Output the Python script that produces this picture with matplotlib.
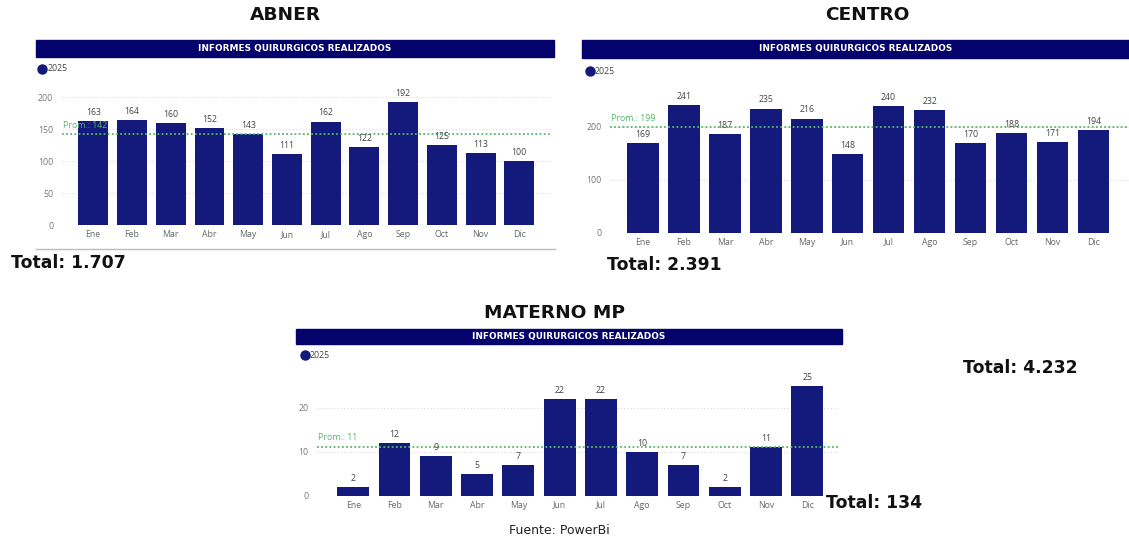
import numpy as np
import matplotlib.pyplot as plt
from matplotlib.patches import Rectangle

# ── data ──
months = ["Ene", "Feb", "Mar", "Abr", "May", "Jun",
          "Jul", "Ago", "Sep", "Oct", "Nov", "Dic"]
abner = [163, 164, 160, 152, 143, 111, 162, 122, 192, 125, 113, 100]
centro = [169, 241, 187, 235, 216, 148, 240, 232, 170, 188, 171, 194]
materno = [2, 12, 9, 5, 7, 22, 22, 10, 7, 2, 11, 25]
abner_ticks = [0, 50, 100, 150, 200]
centro_ticks = [0, 100, 200]
materno_ticks = [0, 10, 20]
series_name = "2025"
header = "INFORMES QUIRURGICOS REALIZADOS"

W, H = 1129, 540
BAR = "#131a7c"
HEAD = "#03036b"
GREEN = "#55b865"
TXT = "#444444"
UI = ["Open Sans", "DejaVu Sans"]
BOLD = ["DejaVu Sans"]

fig = plt.figure(figsize=(W / 100, H / 100), dpi=100)


def fx(x):
    return x / W


def fy(y):
    return 1 - y / H


def fmt(v):
    return f"{v:,}".replace(",", ".")


def panel(vals, ticks, left, right, top, y0, px_unit, c0, sp,
          head_box, legend_xy, title, title_xy):
    # title
    fig.text(fx(title_xy[0]), fy(title_xy[1]), title, ha="center", va="center",
             fontsize=13.3, fontweight="bold", family=BOLD, color="#111111")
    # header bar
    hx0, hx1, hy0, hy1 = head_box
    fig.add_artist(Rectangle((fx(hx0), fy(hy1)), fx(hx1) - fx(hx0), fy(hy0) - fy(hy1),
                             transform=fig.transFigure, color=HEAD, zorder=1))
    fig.text(fx((hx0 + hx1) / 2), fy((hy0 + hy1) / 2), header, ha="center", va="center",
             fontsize=6.4, fontweight="bold", family=BOLD, color="white", zorder=2)
    # legend
    lx, ly = legend_xy
    fig.add_artist(plt.Line2D([fx(lx)], [fy(ly)], marker="o", markersize=6.5,
                              color=BAR, transform=fig.transFigure))
    fig.text(fx(lx + 5), fy(ly), series_name, ha="left", va="center",
             fontsize=6.3, family=UI, color=TXT)

    ax = fig.add_axes([fx(left), fy(y0), fx(right) - fx(left), fy(top) - fy(y0)])
    x = np.arange(len(vals))
    ax.bar(x, vals, width=0.77, color=BAR, zorder=2)
    ax.set_xlim((left - c0) / sp, (right - c0) / sp)
    ax.set_ylim(0, (y0 - top) / px_unit)
    ax.set_xticks(x)
    ax.set_xticklabels(months, fontsize=6.3, color="#666666", family=UI)
    ax.set_yticks(ticks)
    ax.set_yticklabels([str(t) for t in ticks], fontsize=6.3, color="#777777", family=UI)
    ax.tick_params(axis="x", length=0, pad=3.5)
    ax.tick_params(axis="y", length=0, pad=6)
    for s in ax.spines.values():
        s.set_visible(False)
    for t in ticks:
        ax.axhline(t, color="#d8d8d8", lw=0.8, ls=(0, (1, 2)), zorder=0)
    for xi, v in zip(x, vals):
        ax.annotate(str(v), (xi, v), xytext=(0, 3), textcoords="offset points",
                    ha="center", va="bottom", fontsize=6.3, color=TXT, family=UI, zorder=4)
    avg = round(float(np.mean(vals)))
    ax.axhline(np.mean(vals), color=GREEN, lw=1.3, ls=(0, (1, 1.3)), zorder=3)
    ax.annotate(f"Prom.: {avg}", (ax.get_xlim()[0], np.mean(vals)), xytext=(1, 3),
                textcoords="offset points", ha="left", va="bottom",
                fontsize=6.3, color=GREEN, family=UI, zorder=5)
    ax.patch.set_alpha(0)
    return ax


panel(abner, abner_ticks, 61.7, 552, 85, 225, 0.6385, 93.2, 38.74,
      (36, 554, 39.5, 57.3), (42.3, 68.5), "ABNER", (285, 15))
panel(centro, centro_ticks, 610, 1129, 85, 232.7, 0.5285, 643, 40.94,
      (582, 1129, 40, 57.7), (590, 71), "CENTRO", (867, 15))
panel(materno, materno_ticks, 316.7, 838, 370, 495.7, 4.4, 353.3, 41.27,
      (296, 842, 329, 344), (305, 355), "MATERNO MP", (555, 313))

# baseline under ABNER
fig.add_artist(plt.Line2D([fx(36), fx(555)], [fy(248.5), fy(248.5)], color="#bbbbbb",
                          lw=1.0, transform=fig.transFigure))

tot_kw = dict(fontsize=12.4, fontweight="bold", family=BOLD, color="#111111", va="center")
fig.text(fx(11), fy(263.5), f"Total: {fmt(sum(abner))}", ha="left", **tot_kw)
fig.text(fx(607), fy(265), f"Total: {fmt(sum(centro))}", ha="left", **tot_kw)
fig.text(fx(826), fy(503.5), f"Total: {fmt(sum(materno))}", ha="left", **tot_kw)
fig.text(fx(963), fy(368), f"Total: {fmt(sum(abner) + sum(centro) + sum(materno))}",
         ha="left", **tot_kw)
fig.text(fx(559), fy(530), "Fuente: PowerBi", ha="center", va="center",
         fontsize=9, family=BOLD, color="#222222")

fig.savefig("out.png", dpi=100)
